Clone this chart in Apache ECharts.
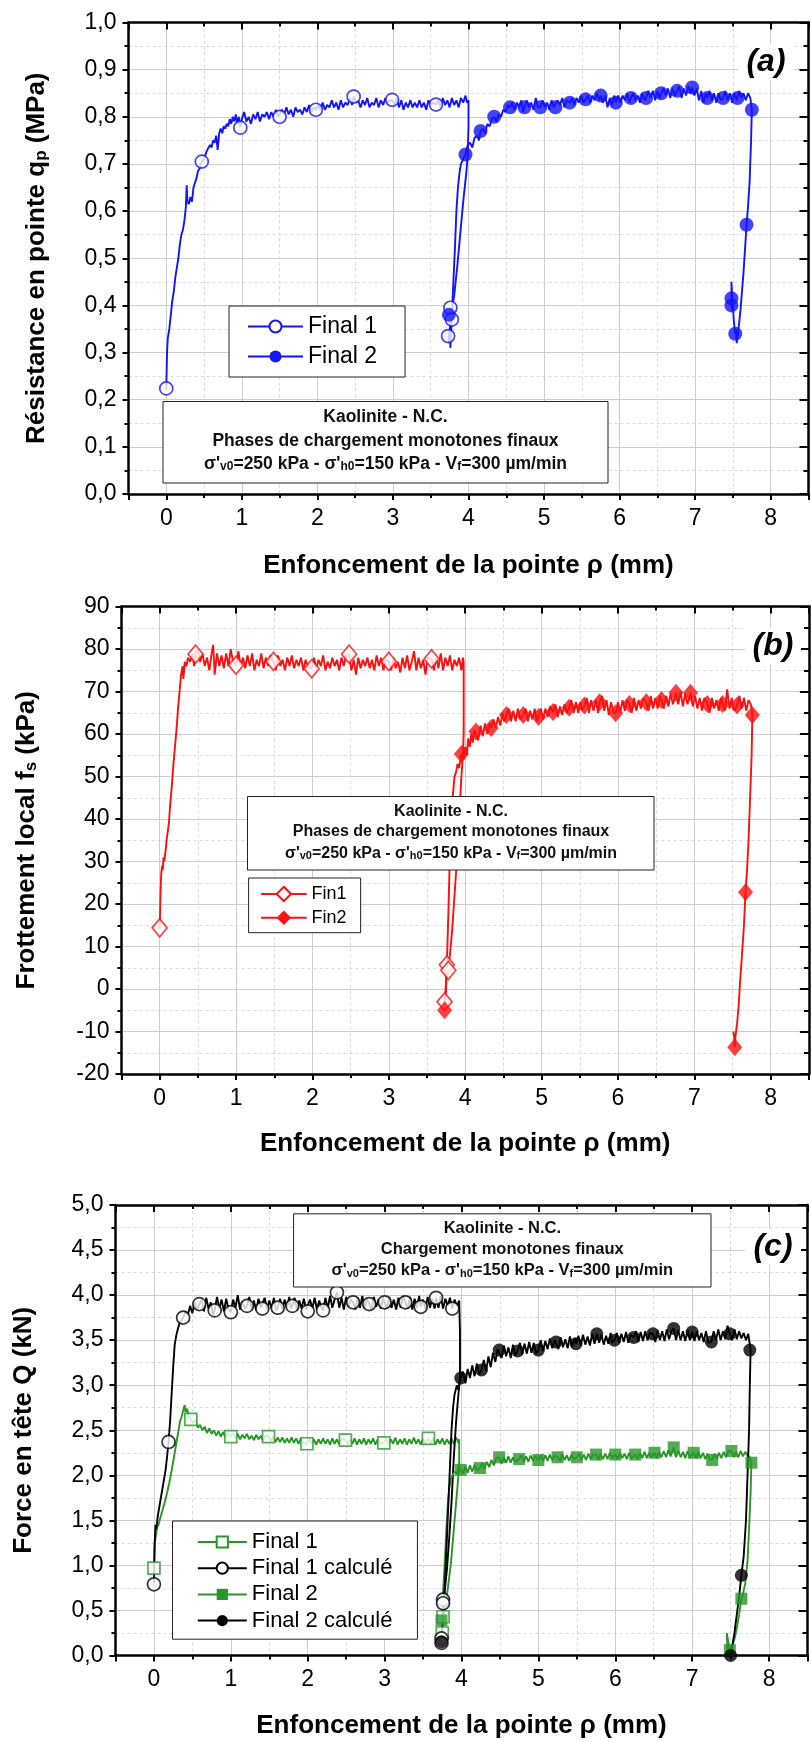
<!DOCTYPE html>
<html><head><meta charset="utf-8">
<script src="https://cdn.jsdelivr.net/npm/echarts@6/dist/echarts.min.js"></script>
<style>html,body{margin:0;padding:0;background:#fff}#c{width:811px;height:1742px}</style>
</head><body><div id="c"></div><script>
// ---------------- DATA ----------------
const xTitle = 'Enfoncement de la pointe ρ (mm)';
const aFinal1Line = [[0,0.22],[0.01,0.30],[0.02,0.33],[0.04,0.35],[0.06,0.38],[0.08,0.41],[0.10,0.43],[0.12,0.46],[0.14,0.48],[0.16,0.50],[0.18,0.53],[0.20,0.55],[0.22,0.56],[0.24,0.58],[0.26,0.61],[0.27,0.655],[0.28,0.62],[0.30,0.615],[0.32,0.63],[0.34,0.62],[0.36,0.65],[0.38,0.66],[0.40,0.67],[0.42,0.685],[0.44,0.69],[0.47,0.705],[0.50,0.71],[0.53,0.725],[0.56,0.735],[0.58,0.74],[0.60,0.735],[0.62,0.75],[0.64,0.745],[0.66,0.76],[0.68,0.73],[0.70,0.765],[0.72,0.775],[0.74,0.765],[0.76,0.78],[0.78,0.775],[0.80,0.785],[0.82,0.78],[0.84,0.795],[0.86,0.785],[0.88,0.80],[0.90,0.79],[0.92,0.805],[0.94,0.785],[0.96,0.80],[0.98,0.778],[1.00,0.795],[1.03,0.81],[1.06,0.79],[1.09,0.80],[1.12,0.785],[1.15,0.805],[1.18,0.795],[1.21,0.81],[1.24,0.79],[1.27,0.805],[1.30,0.80],[1.33,0.81],[1.36,0.795],[1.39,0.81],[1.42,0.80],[1.45,0.815],[1.48,0.80],[1.50,0.80],[1.53,0.815],[1.56,0.805],[1.59,0.82],[1.62,0.805],[1.65,0.815],[1.68,0.80],[1.71,0.82],[1.74,0.81],[1.77,0.815],[1.80,0.805],[1.83,0.82],[1.86,0.81],[1.89,0.825],[1.92,0.81],[1.95,0.82],[1.98,0.815],[2.01,0.825],[2.04,0.815],[2.07,0.83],[2.10,0.815],[2.13,0.825],[2.16,0.82],[2.19,0.835],[2.22,0.82],[2.25,0.83],[2.28,0.815],[2.31,0.835],[2.34,0.82],[2.37,0.83],[2.40,0.825],[2.43,0.84],[2.46,0.825],[2.48,0.843],[2.51,0.83],[2.54,0.835],[2.57,0.82],[2.60,0.835],[2.63,0.825],[2.66,0.84],[2.69,0.82],[2.72,0.83],[2.75,0.825],[2.78,0.84],[2.81,0.82],[2.84,0.835],[2.87,0.825],[2.90,0.84],[2.93,0.83],[2.96,0.835],[2.99,0.836],[3.02,0.825],[3.05,0.84],[3.08,0.82],[3.11,0.835],[3.14,0.815],[3.17,0.83],[3.20,0.82],[3.23,0.835],[3.26,0.82],[3.29,0.83],[3.32,0.82],[3.35,0.835],[3.38,0.82],[3.41,0.83],[3.44,0.815],[3.47,0.835],[3.50,0.825],[3.53,0.83],[3.57,0.826],[3.60,0.835],[3.63,0.82],[3.66,0.84],[3.69,0.825],[3.72,0.835],[3.75,0.82],[3.78,0.84],[3.81,0.825],[3.84,0.835],[3.87,0.82],[3.90,0.84],[3.93,0.83],[3.96,0.845],[3.98,0.83],[4.00,0.835],[4.00,0.78],[3.99,0.72],[3.97,0.68],[3.93,0.62],[3.89,0.55],[3.85,0.48],[3.81,0.42],[3.78,0.39],[3.77,0.37],[3.75,0.34],[3.74,0.32],[3.74,0.335],[3.76,0.36],[3.76,0.395]];
const aFinal1Marks = [[0,0.224],[0.47,0.705],[0.98,0.777],[1.50,0.80],[1.98,0.815],[2.48,0.843],[2.99,0.836],[3.57,0.826],[3.76,0.395],[3.78,0.37],[3.73,0.335]];
const aFinal2Line = [[3.74,0.38],[3.75,0.39],[3.76,0.36],[3.76,0.31],[3.77,0.34],[3.78,0.38],[3.80,0.45],[3.82,0.52],[3.84,0.60],[3.86,0.65],[3.88,0.68],[3.90,0.70],[3.93,0.71],[3.96,0.72],[3.99,0.74],[4.02,0.745],[4.05,0.735],[4.08,0.755],[4.11,0.76],[4.14,0.75],[4.16,0.77],[4.19,0.775],[4.22,0.765],[4.25,0.785],[4.28,0.78],[4.31,0.795],[4.34,0.80],[4.37,0.79],[4.40,0.805],[4.43,0.80],[4.46,0.815],[4.49,0.81],[4.52,0.825],[4.55,0.82],[4.58,0.83],[4.61,0.815],[4.64,0.83],[4.67,0.82],[4.70,0.835],[4.72,0.81],[4.74,0.82],[4.77,0.835],[4.80,0.82],[4.83,0.83],[4.86,0.815],[4.89,0.84],[4.92,0.82],[4.95,0.82],[4.98,0.835],[5.01,0.82],[5.04,0.83],[5.07,0.815],[5.10,0.835],[5.13,0.82],[5.15,0.82],[5.18,0.835],[5.21,0.825],[5.24,0.84],[5.27,0.82],[5.30,0.835],[5.34,0.83],[5.37,0.84],[5.40,0.825],[5.43,0.84],[5.46,0.83],[5.49,0.845],[5.52,0.83],[5.55,0.837],[5.58,0.845],[5.61,0.83],[5.64,0.845],[5.67,0.835],[5.70,0.85],[5.73,0.835],[5.75,0.845],[5.78,0.83],[5.81,0.845],[5.84,0.82],[5.87,0.84],[5.90,0.825],[5.93,0.845],[5.95,0.83],[5.98,0.845],[6.01,0.83],[6.04,0.845],[6.07,0.835],[6.10,0.85],[6.13,0.83],[6.15,0.84],[6.18,0.85],[6.21,0.835],[6.24,0.845],[6.27,0.83],[6.30,0.85],[6.33,0.835],[6.35,0.84],[6.38,0.855],[6.41,0.84],[6.44,0.855],[6.47,0.835],[6.50,0.855],[6.53,0.84],[6.55,0.85],[6.58,0.86],[6.61,0.845],[6.64,0.86],[6.67,0.84],[6.70,0.86],[6.73,0.845],[6.76,0.855],[6.79,0.865],[6.82,0.84],[6.85,0.86],[6.88,0.845],[6.91,0.865],[6.94,0.85],[6.96,0.862],[6.99,0.845],[7.02,0.86],[7.05,0.835],[7.08,0.855],[7.11,0.83],[7.14,0.85],[7.16,0.84],[7.19,0.855],[7.22,0.835],[7.25,0.85],[7.28,0.83],[7.31,0.85],[7.34,0.835],[7.37,0.84],[7.40,0.855],[7.43,0.835],[7.46,0.85],[7.49,0.83],[7.52,0.85],[7.55,0.835],[7.58,0.855],[7.61,0.84],[7.64,0.85],[7.67,0.835],[7.70,0.85],[7.73,0.84],[7.75,0.815],[7.74,0.75],[7.72,0.66],[7.70,0.61],[7.68,0.571],[7.66,0.52],[7.64,0.47],[7.62,0.43],[7.60,0.39],[7.58,0.36],[7.56,0.33],[7.55,0.32],[7.54,0.35],[7.53,0.34],[7.51,0.37],[7.50,0.40],[7.49,0.42],[7.48,0.45],[7.48,0.40],[7.49,0.39]];
const aFinal2Marks = [[3.74,0.38],[3.96,0.72],[4.16,0.77],[4.34,0.80],[4.55,0.82],[4.74,0.82],[4.95,0.82],[5.15,0.82],[5.34,0.83],[5.55,0.837],[5.75,0.845],[5.95,0.83],[6.15,0.84],[6.35,0.84],[6.55,0.85],[6.76,0.855],[6.96,0.862],[7.16,0.84],[7.37,0.84],[7.56,0.84],[7.75,0.815],[7.68,0.571],[7.53,0.34],[7.48,0.40],[7.48,0.415]];

const bFin1Line = [[0,14],[0.01,22],[0.02,27],[0.03,29],[0.04,28],[0.05,31],[0.06,30],[0.08,33],[0.09,35],[0.10,35],[0.12,39],[0.14,44],[0.16,48],[0.18,53],[0.20,57],[0.22,61],[0.24,66],[0.26,70],[0.28,74],[0.30,76],[0.31,73],[0.33,77],[0.35,76],[0.37,78],[0.40,77],[0.43,79],[0.45,76],[0.47,79],[0.50,80],[0.53,77],[0.56,79],[0.59,76],[0.62,78],[0.65,75],[0.68,79],[0.70,81],[0.72,74],[0.75,79],[0.78,76],[0.81,78.5],[0.84,75.5],[0.87,79],[0.90,76],[0.93,80],[0.96,77],[1.00,76.2],[1.03,79.5],[1.06,76],[1.09,78],[1.12,75.5],[1.15,78.5],[1.18,76],[1.21,79],[1.24,75],[1.27,77.5],[1.30,76],[1.33,79],[1.36,75.5],[1.39,78],[1.42,76],[1.45,78.5],[1.49,77.1],[1.52,75],[1.55,78.5],[1.58,76],[1.61,77.5],[1.64,75],[1.67,78],[1.70,76],[1.73,78.5],[1.76,75.5],[1.79,77.5],[1.82,76],[1.85,78],[1.88,75],[1.91,77.5],[1.94,76],[1.99,75.4],[2.02,78],[2.05,75.5],[2.08,77.5],[2.11,76],[2.14,78.5],[2.17,75],[2.20,77],[2.23,75.5],[2.26,78],[2.29,76],[2.32,77.5],[2.35,75],[2.38,78],[2.41,76],[2.44,78.5],[2.48,78.8],[2.51,75],[2.54,77.5],[2.57,74],[2.60,78],[2.63,75.5],[2.66,77.5],[2.69,76],[2.72,78],[2.75,75.5],[2.78,77.5],[2.81,75],[2.84,78.5],[2.87,76],[2.90,78],[2.93,75],[2.96,77.5],[3.00,77.1],[3.03,75],[3.06,78],[3.09,75.5],[3.12,77],[3.15,74.5],[3.18,78],[3.21,75.5],[3.24,78.5],[3.27,75],[3.30,77],[3.33,79.5],[3.36,75],[3.39,78],[3.42,75.5],[3.45,77.5],[3.48,74],[3.51,78],[3.56,77.7],[3.59,75],[3.62,78],[3.65,75.5],[3.68,79],[3.71,75],[3.74,78],[3.77,76],[3.80,78.5],[3.83,75],[3.86,77.5],[3.89,76],[3.92,78],[3.95,75],[3.97,78],[3.98,77],[3.98,60],[3.97,55],[3.95,50],[3.92,40],[3.89,30],[3.86,22],[3.83,14],[3.80,8],[3.78,5],[3.77,4.4],[3.76,5.7],[3.75,2],[3.74,-1],[3.73,-3]];
const bFin1Marks = [[0,14.4],[0.47,78.8],[1.0,76.2],[1.49,77.1],[1.99,75.4],[2.48,78.8],[3.0,77.1],[3.56,77.7],[3.76,5.7],[3.78,4.4],[3.73,-3.0]];
const bFin2Line = [[3.73,-5],[3.74,-3],[3.75,0],[3.76,6],[3.77,12],[3.78,18],[3.79,25],[3.80,32],[3.82,40],[3.84,46],[3.86,50],[3.88,51],[3.90,53],[3.92,52],[3.95,55.3],[3.98,54],[4.00,57],[4.02,55],[4.04,59],[4.06,57],[4.08,60],[4.10,58],[4.12,61],[4.14,60.6],[4.17,58.5],[4.20,62],[4.23,59.5],[4.26,62.5],[4.29,60],[4.32,62.5],[4.34,61.4],[4.37,63.5],[4.40,61.5],[4.43,64],[4.46,62],[4.49,65],[4.51,63],[4.54,64.5],[4.57,66],[4.60,63],[4.63,65.5],[4.66,63],[4.69,66],[4.72,63.5],[4.76,64.5],[4.79,66],[4.82,63],[4.85,65.5],[4.88,63.5],[4.91,66],[4.94,63],[4.96,64],[4.99,66],[5.02,63.5],[5.05,66],[5.08,64],[5.11,66.5],[5.15,65.2],[5.18,67],[5.21,64],[5.24,66.5],[5.27,64.5],[5.30,67],[5.33,65],[5.36,66.2],[5.39,68],[5.42,65],[5.45,67.5],[5.48,65],[5.51,67.5],[5.53,65.5],[5.56,66.7],[5.59,68.5],[5.62,65],[5.65,68],[5.68,65.5],[5.71,68],[5.74,65],[5.76,67.5],[5.79,69],[5.82,65.5],[5.85,68],[5.88,64.5],[5.91,67.5],[5.94,65],[5.97,64.9],[6.00,67.5],[6.03,65],[6.06,68],[6.09,65.5],[6.12,68],[6.15,67.1],[6.18,65],[6.21,68.5],[6.24,65.5],[6.27,68],[6.30,66],[6.33,68.5],[6.37,67.5],[6.40,65.5],[6.43,69],[6.46,66],[6.49,68.5],[6.52,66],[6.55,69],[6.57,68],[6.60,66],[6.63,69],[6.66,66.5],[6.69,69.5],[6.72,67],[6.76,69.7],[6.79,67],[6.82,70],[6.85,66.5],[6.88,69.5],[6.91,67],[6.95,69.7],[6.98,66.5],[7.01,69],[7.04,66],[7.07,68.5],[7.10,65.5],[7.13,68.5],[7.17,67.1],[7.20,65],[7.23,68.5],[7.26,66],[7.29,68],[7.32,65.5],[7.35,68.5],[7.37,67.1],[7.40,65.5],[7.43,70.5],[7.46,66],[7.49,68.5],[7.52,65.5],[7.56,66.7],[7.59,69],[7.62,66],[7.65,68.5],[7.68,65.5],[7.71,68],[7.74,67],[7.76,64.5],[7.75,55],[7.73,45],[7.71,35],[7.69,28],[7.67,22.8],[7.65,15],[7.62,7],[7.60,2],[7.58,-4],[7.56,-8],[7.54,-11],[7.53,-13.7],[7.52,-11],[7.51,-10]];
const bFin2Marks = [[3.73,-5.0],[3.95,55.3],[4.14,60.6],[4.34,61.4],[4.54,64.5],[4.76,64.5],[4.96,64.0],[5.15,65.2],[5.36,66.2],[5.56,66.7],[5.76,67.5],[5.97,64.9],[6.15,67.1],[6.37,67.5],[6.57,68.0],[6.76,69.7],[6.95,69.7],[7.17,67.1],[7.37,67.1],[7.56,66.7],[7.76,64.5],[7.67,22.8],[7.53,-13.7]];

const cFinal1Line = [[0,0.97],[0.005,1.15],[0.01,1.25],[0.02,1.3],[0.04,1.42],[0.06,1.45],[0.08,1.52],[0.10,1.58],[0.12,1.64],[0.14,1.7],[0.17,1.8],[0.20,1.92],[0.23,2.05],[0.26,2.2],[0.29,2.35],[0.32,2.5],[0.34,2.6],[0.36,2.65],[0.38,2.72],[0.40,2.78],[0.41,2.7],[0.43,2.74],[0.45,2.66],[0.48,2.62],[0.51,2.58],[0.54,2.62],[0.57,2.53],[0.60,2.56],[0.63,2.5],[0.66,2.54],[0.69,2.47],[0.72,2.52],[0.75,2.46],[0.78,2.5],[0.81,2.44],[0.84,2.49],[0.87,2.43],[0.90,2.48],[0.93,2.42],[0.96,2.47],[1.00,2.43],[1.03,2.47],[1.06,2.41],[1.09,2.46],[1.12,2.4],[1.15,2.45],[1.18,2.41],[1.21,2.46],[1.24,2.4],[1.27,2.44],[1.30,2.39],[1.33,2.45],[1.36,2.4],[1.39,2.44],[1.42,2.38],[1.45,2.44],[1.49,2.43],[1.52,2.38],[1.55,2.43],[1.58,2.37],[1.61,2.42],[1.64,2.37],[1.67,2.42],[1.70,2.36],[1.73,2.41],[1.76,2.36],[1.79,2.42],[1.82,2.36],[1.85,2.41],[1.88,2.35],[1.91,2.41],[1.94,2.36],[1.99,2.35],[2.02,2.41],[2.05,2.35],[2.08,2.4],[2.11,2.34],[2.14,2.4],[2.17,2.35],[2.20,2.41],[2.23,2.35],[2.26,2.4],[2.29,2.34],[2.32,2.41],[2.35,2.35],[2.38,2.4],[2.41,2.34],[2.44,2.41],[2.49,2.39],[2.52,2.34],[2.55,2.4],[2.58,2.35],[2.61,2.41],[2.64,2.34],[2.67,2.4],[2.70,2.35],[2.73,2.41],[2.76,2.34],[2.79,2.4],[2.82,2.35],[2.85,2.41],[2.88,2.34],[2.91,2.4],[2.94,2.35],[2.99,2.36],[3.02,2.41],[3.05,2.34],[3.08,2.4],[3.11,2.35],[3.14,2.42],[3.17,2.34],[3.20,2.4],[3.23,2.35],[3.26,2.41],[3.29,2.34],[3.32,2.4],[3.35,2.35],[3.38,2.42],[3.41,2.35],[3.44,2.4],[3.47,2.34],[3.50,2.41],[3.53,2.35],[3.57,2.41],[3.60,2.35],[3.63,2.41],[3.66,2.34],[3.69,2.4],[3.72,2.35],[3.75,2.41],[3.78,2.34],[3.81,2.4],[3.84,2.35],[3.87,2.41],[3.90,2.35],[3.93,2.42],[3.96,2.36],[3.97,2.4],[3.97,2.1],[3.95,1.9],[3.92,1.6],[3.89,1.3],[3.86,1.0],[3.83,0.8],[3.80,0.6],[3.77,0.45],[3.76,0.43],[3.75,0.3],[3.75,0.25]];
const cFinal1Marks = [[0,0.97],[0.48,2.62],[1.0,2.43],[1.49,2.43],[1.99,2.35],[2.49,2.39],[2.99,2.36],[3.57,2.41],[3.76,0.43],[3.75,0.25]];
const cFinal1CalcLine = [[0,0.80],[0.005,1.0],[0.01,1.25],[0.02,1.45],[0.03,1.4],[0.05,1.55],[0.07,1.65],[0.09,1.75],[0.11,1.85],[0.13,1.95],[0.15,2.05],[0.17,2.2],[0.19,2.37],[0.21,2.6],[0.23,2.9],[0.25,3.2],[0.27,3.45],[0.29,3.55],[0.31,3.62],[0.33,3.68],[0.35,3.7],[0.38,3.75],[0.41,3.82],[0.44,3.78],[0.47,3.88],[0.50,3.8],[0.53,3.92],[0.56,3.84],[0.59,3.90],[0.62,3.95],[0.65,3.82],[0.68,3.97],[0.71,3.85],[0.74,3.92],[0.77,3.78],[0.79,3.83],[0.82,3.98],[0.85,3.85],[0.88,3.95],[0.91,3.82],[0.94,3.96],[0.97,3.84],[1.00,3.81],[1.03,3.95],[1.06,3.86],[1.09,4.0],[1.12,3.84],[1.15,3.93],[1.18,3.85],[1.21,3.88],[1.24,3.98],[1.27,3.84],[1.30,3.94],[1.33,3.83],[1.36,3.96],[1.39,3.86],[1.41,3.85],[1.44,3.97],[1.47,3.84],[1.50,3.94],[1.53,3.85],[1.56,3.97],[1.59,3.83],[1.61,3.86],[1.64,3.96],[1.67,3.84],[1.70,3.95],[1.73,3.86],[1.76,3.98],[1.78,3.85],[1.80,3.88],[1.83,3.97],[1.86,3.83],[1.89,3.94],[1.92,3.85],[1.95,3.96],[1.98,3.84],[2.00,3.82],[2.03,3.95],[2.06,3.85],[2.09,3.97],[2.12,3.84],[2.15,3.94],[2.18,3.86],[2.20,3.83],[2.23,3.97],[2.26,3.85],[2.29,3.99],[2.32,3.86],[2.35,3.95],[2.38,4.03],[2.41,3.86],[2.44,3.97],[2.47,3.84],[2.50,3.98],[2.53,3.87],[2.56,3.95],[2.59,3.92],[2.62,3.84],[2.65,3.97],[2.68,3.86],[2.71,3.99],[2.74,3.85],[2.77,3.96],[2.80,3.90],[2.83,3.84],[2.86,3.98],[2.89,3.87],[2.92,3.95],[2.95,3.85],[2.98,3.97],[3.00,3.92],[3.03,3.85],[3.06,3.98],[3.09,3.86],[3.12,3.95],[3.15,3.84],[3.18,3.97],[3.21,3.86],[3.24,3.99],[3.27,3.92],[3.30,3.85],[3.33,3.98],[3.36,3.84],[3.39,3.96],[3.42,3.86],[3.45,3.99],[3.47,3.87],[3.50,3.95],[3.53,3.84],[3.56,3.98],[3.59,3.86],[3.62,3.96],[3.65,3.85],[3.67,3.97],[3.70,3.86],[3.73,3.99],[3.76,3.85],[3.79,3.96],[3.82,3.88],[3.85,3.97],[3.88,3.85],[3.91,3.95],[3.94,3.88],[3.97,3.94],[3.98,3.6],[3.98,3.1],[3.96,2.9],[3.93,2.6],[3.90,2.2],[3.87,1.7],[3.84,1.3],[3.81,0.95],[3.78,0.7],[3.76,0.62],[3.76,0.58],[3.75,0.4],[3.74,0.19],[3.74,0.14]];
const cFinal1CalcMarks = [[0,0.79],[0.19,2.37],[0.38,3.75],[0.59,3.90],[0.79,3.83],[1.0,3.81],[1.21,3.88],[1.41,3.85],[1.61,3.86],[1.80,3.88],[2.0,3.82],[2.2,3.83],[2.38,4.03],[2.59,3.92],[2.80,3.90],[3.0,3.92],[3.27,3.92],[3.47,3.87],[3.67,3.97],[3.88,3.85],[3.76,0.62],[3.76,0.58],[3.74,0.19],[3.74,0.14]];
const cFinal2Line = [[3.74,0.39],[3.75,0.5],[3.76,0.7],[3.78,1.0],[3.80,1.35],[3.82,1.65],[3.84,1.85],[3.86,1.95],[3.88,2.0],[3.91,2.04],[3.94,2.02],[3.96,2.08],[3.99,2.06],[4.02,2.02],[4.05,2.1],[4.08,2.03],[4.11,2.11],[4.14,2.04],[4.17,2.12],[4.20,2.05],[4.24,2.08],[4.27,2.14],[4.30,2.07],[4.33,2.15],[4.36,2.09],[4.39,2.17],[4.42,2.11],[4.45,2.19],[4.49,2.2],[4.52,2.13],[4.55,2.2],[4.58,2.14],[4.61,2.21],[4.64,2.14],[4.67,2.2],[4.70,2.15],[4.75,2.18],[4.78,2.22],[4.81,2.15],[4.84,2.21],[4.87,2.15],[4.90,2.22],[4.93,2.16],[4.96,2.21],[5.00,2.17],[5.03,2.22],[5.06,2.16],[5.09,2.22],[5.12,2.16],[5.15,2.23],[5.18,2.17],[5.21,2.22],[5.25,2.2],[5.28,2.16],[5.31,2.23],[5.34,2.17],[5.37,2.22],[5.40,2.16],[5.43,2.23],[5.46,2.18],[5.50,2.2],[5.53,2.24],[5.56,2.17],[5.59,2.23],[5.62,2.17],[5.65,2.24],[5.68,2.18],[5.71,2.23],[5.75,2.23],[5.78,2.17],[5.81,2.24],[5.84,2.18],[5.87,2.24],[5.90,2.18],[5.93,2.25],[5.96,2.19],[6.00,2.23],[6.03,2.18],[6.06,2.25],[6.09,2.19],[6.12,2.24],[6.15,2.18],[6.18,2.25],[6.21,2.19],[6.26,2.23],[6.29,2.18],[6.32,2.25],[6.35,2.19],[6.38,2.26],[6.41,2.19],[6.44,2.25],[6.47,2.2],[6.51,2.25],[6.54,2.19],[6.57,2.26],[6.60,2.2],[6.63,2.27],[6.66,2.2],[6.69,2.28],[6.72,2.21],[6.76,2.31],[6.79,2.2],[6.82,2.27],[6.85,2.2],[6.88,2.26],[6.91,2.19],[6.94,2.27],[6.97,2.2],[7.02,2.25],[7.05,2.19],[7.08,2.26],[7.11,2.19],[7.14,2.25],[7.17,2.18],[7.20,2.24],[7.23,2.18],[7.26,2.17],[7.29,2.24],[7.32,2.18],[7.35,2.25],[7.38,2.19],[7.41,2.26],[7.44,2.2],[7.47,2.27],[7.51,2.27],[7.54,2.2],[7.57,2.26],[7.60,2.2],[7.63,2.27],[7.66,2.21],[7.69,2.26],[7.72,2.22],[7.75,2.2],[7.77,2.14],[7.76,1.8],[7.74,1.4],[7.72,1.05],[7.69,0.8],[7.66,0.68],[7.64,0.63],[7.61,0.45],[7.58,0.3],[7.55,0.18],[7.52,0.1],[7.49,0.06],[7.47,0.08],[7.45,0.25],[7.46,0.04]];
const cFinal2Marks = [[3.74,0.39],[3.99,2.06],[4.24,2.08],[4.49,2.2],[4.75,2.18],[5.0,2.17],[5.25,2.2],[5.5,2.2],[5.75,2.23],[6.0,2.23],[6.26,2.23],[6.51,2.25],[6.76,2.31],[7.02,2.25],[7.26,2.17],[7.51,2.27],[7.77,2.14],[7.64,0.63],[7.49,0.06]];
const cFinal2CalcLine = [[3.74,0.15],[3.75,0.25],[3.76,0.4],[3.77,0.6],[3.79,0.9],[3.81,1.3],[3.83,1.7],[3.85,2.1],[3.87,2.5],[3.89,2.75],[3.91,2.9],[3.94,3.0],[3.96,2.95],[3.99,3.08],[4.02,3.15],[4.05,3.02],[4.08,3.18],[4.11,3.08],[4.14,3.22],[4.17,3.1],[4.20,3.24],[4.23,3.12],[4.26,3.17],[4.29,3.28],[4.32,3.16],[4.35,3.32],[4.38,3.2],[4.41,3.36],[4.44,3.26],[4.47,3.4],[4.49,3.39],[4.52,3.3],[4.55,3.44],[4.58,3.32],[4.61,3.42],[4.64,3.3],[4.67,3.45],[4.70,3.33],[4.73,3.38],[4.76,3.47],[4.79,3.34],[4.82,3.46],[4.85,3.35],[4.88,3.48],[4.91,3.36],[4.94,3.47],[4.97,3.35],[5.00,3.39],[5.03,3.5],[5.06,3.38],[5.09,3.49],[5.12,3.4],[5.15,3.52],[5.18,3.41],[5.21,3.5],[5.23,3.48],[5.26,3.4],[5.29,3.53],[5.32,3.42],[5.35,3.51],[5.38,3.41],[5.41,3.54],[5.44,3.43],[5.47,3.52],[5.49,3.46],[5.52,3.55],[5.55,3.44],[5.58,3.56],[5.61,3.45],[5.64,3.54],[5.67,3.44],[5.70,3.57],[5.73,3.46],[5.76,3.57],[5.79,3.47],[5.82,3.56],[5.85,3.45],[5.88,3.55],[5.91,3.46],[5.94,3.58],[5.96,3.47],[5.99,3.50],[6.02,3.58],[6.05,3.47],[6.08,3.57],[6.11,3.48],[6.14,3.59],[6.17,3.47],[6.20,3.56],[6.24,3.53],[6.27,3.6],[6.30,3.48],[6.33,3.59],[6.36,3.49],[6.39,3.6],[6.42,3.5],[6.45,3.58],[6.49,3.57],[6.52,3.48],[6.55,3.61],[6.58,3.5],[6.61,3.6],[6.64,3.49],[6.67,3.62],[6.70,3.51],[6.73,3.6],[6.76,3.63],[6.79,3.5],[6.82,3.61],[6.85,3.5],[6.88,3.6],[6.91,3.49],[6.94,3.61],[6.97,3.5],[7.00,3.59],[7.03,3.49],[7.06,3.6],[7.09,3.5],[7.12,3.58],[7.15,3.48],[7.18,3.6],[7.21,3.47],[7.25,3.48],[7.28,3.6],[7.31,3.5],[7.34,3.62],[7.37,3.5],[7.40,3.6],[7.43,3.51],[7.46,3.66],[7.49,3.57],[7.52,3.5],[7.55,3.62],[7.58,3.51],[7.61,3.6],[7.64,3.52],[7.67,3.58],[7.70,3.5],[7.73,3.57],[7.75,3.55],[7.76,3.39],[7.75,3.0],[7.74,2.5],[7.72,2.0],[7.70,1.5],[7.67,1.1],[7.64,0.89],[7.61,0.65],[7.58,0.45],[7.55,0.25],[7.52,0.1],[7.50,0.0]];
const cFinal2CalcMarks = [[3.74,0.15],[3.99,3.08],[4.26,3.17],[4.49,3.39],[4.73,3.38],[5.0,3.39],[5.23,3.48],[5.49,3.46],[5.76,3.57],[5.99,3.50],[6.24,3.53],[6.49,3.57],[6.76,3.63],[7.0,3.59],[7.25,3.48],[7.49,3.57],[7.75,3.39],[7.64,0.89],[7.5,0.0]];

// ---------------- STYLE ----------------
const FONT = "'Liberation Sans', Arial, Helvetica, sans-serif";
const BLUE = '#1414ff', RED = '#ff1010', GREEN = '#2a962a', BLACK = '#000000';
const LW = 1.9;

function xAxes(g, gap) {
  const common = {type:'value', gridIndex:g, min:-0.5, max:8.5, minInterval:1, maxInterval:1};
  return [Object.assign({}, common, {
    position:'bottom',
    axisLine:{onZero:false, lineStyle:{color:'#000', width:2.5}},
    axisTick:{show:true, inside:false, length:6, lineStyle:{color:'#000', width:2}},
    minorTick:{show:true, splitNumber:2, length:4, lineStyle:{color:'#000', width:2}},
    splitLine:{show:true, lineStyle:{color:'#cdcdcd', width:1}},
    minorSplitLine:{show:true, lineStyle:{color:'#dadada', width:1, type:[3,3]}},
    axisLabel:{show:true, fontSize:23, color:'#000', fontFamily:FONT, margin:13, showMinLabel:false, showMaxLabel:false,
      formatter: v => Number.isInteger(v) ? String(v) : ''},
    name:xTitle, nameLocation:'middle', nameGap:gap, nameMoveOverlap:false,
    nameTextStyle:{fontSize:26, fontWeight:'bold', fontFamily:FONT, color:'#000'}
  }), Object.assign({}, common, {
    position:'top',
    axisLine:{onZero:false, lineStyle:{color:'#000', width:2.5}},
    axisTick:{show:true, inside:true, length:7, lineStyle:{color:'#000', width:2}},
    minorTick:{show:true, splitNumber:2, length:4, lineStyle:{color:'#000', width:2}},
    splitLine:{show:false}, minorSplitLine:{show:false}, axisLabel:{show:false}
  })];
}
function yAxes(g, min, max, interval, fmt, name, gap, rich) {
  const common = {type:'value', gridIndex:g, min, max, interval};
  return [Object.assign({}, common, {
    position:'left',
    axisLine:{onZero:false, lineStyle:{color:'#000', width:2.5}},
    axisTick:{show:true, inside:false, length:6, lineStyle:{color:'#000', width:2}},
    minorTick:{show:true, splitNumber:2, length:4, lineStyle:{color:'#000', width:2}},
    splitLine:{show:true, lineStyle:{color:'#cdcdcd', width:1}},
    minorSplitLine:{show:true, lineStyle:{color:'#dadada', width:1, type:[3,3]}},
    axisLabel:{show:true, fontSize:23, color:'#000', fontFamily:FONT, margin:12, formatter:fmt},
    name, nameLocation:'middle', nameGap:gap, nameMoveOverlap:false,
    nameTextStyle:{fontSize:26, fontWeight:'bold', fontFamily:FONT, color:'#000', rich}
  }), Object.assign({}, common, {
    position:'right',
    axisLine:{onZero:false, lineStyle:{color:'#000', width:2.5}},
    axisTick:{show:true, inside:true, length:9, lineStyle:{color:'#000', width:2}},
    minorTick:{show:true, splitNumber:2, length:5, lineStyle:{color:'#000', width:2}},
    splitLine:{show:false}, minorSplitLine:{show:false}, axisLabel:{show:false}
  })];
}
const comma1 = v => v.toFixed(1).replace('.', ',');
const subRich = {s:{fontSize:17, fontWeight:'bold', fontFamily:FONT, color:'#000', verticalAlign:'bottom'}};

function lineS(name, data, color, ax, sym, size, filled) {
  return {type:'line', name, data, xAxisIndex:ax*2, yAxisIndex:ax*2, showSymbol:false, symbol:sym, symbolSize:size,
    lineStyle:{color, width:LW}, itemStyle: filled ? {color} : {color:'#fff', borderColor:color, borderWidth:1.7},
    emphasis:{disabled:true}, animation:false, z:2};
}
function markS(name, data, color, ax, sym, size, filled) {
  return {type:'scatter', name, data, xAxisIndex:ax*2, yAxisIndex:ax*2, symbol:sym, symbolSize:size,
    itemStyle: filled ? {color} : {color:'#fff', borderColor:color, borderWidth:1.7},
    emphasis:{disabled:true}, animation:false, z:3};
}

function boxGraphic(x, y, w, h, cx, lines, fs, sub) {
  const rich = {
    b:{fontSize:fs, fontWeight:'bold', fontFamily:FONT, fill:'#111'},
    s:{fontSize:sub, fontWeight:'bold', fontFamily:FONT, fill:'#111', verticalAlign:'bottom'}
  };
  const els = [{type:'rect', z:100, silent:true, shape:{x, y, width:w, height:h}, style:{fill:'#fff', stroke:'#222', lineWidth:1}}];
  lines.forEach(l => els.push({type:'text', z:101, silent:true, x:cx, y:l[0],
    style:{text:l[1], fontSize:fs, fontWeight:'bold', fontFamily:FONT, fill:'#111', align:'center', verticalAlign:'middle', rich}}));
  return els;
}
const sigmaLine = "{b|σ'}{s|v0}{b|=250 kPa - σ'}{s|h0}{b|=150 kPa - V}{s|f}{b|=300 µm/min}";
function panelLabel(txt, cx, cy) {
  return [
    {type:'rect', z:100, silent:true, shape:{x:cx-28, y:cy-18, width:56, height:36}, style:{fill:'#fff'}},
    {type:'text', z:101, silent:true, x:cx, y:cy, style:{text:txt, fontSize:32, fontWeight:'bold', fontStyle:'italic', fontFamily:FONT, fill:'#000', align:'center', verticalAlign:'middle'}}
  ];
}

const option = {
  animation:false,
  backgroundColor:'#fff',
  grid:[
    {left:128.5, top:22.5, width:680, height:471.5, containLabel:false, outerBoundsMode:'none'},
    {left:121.5, top:606.6, width:687.4, height:467.4, containLabel:false, outerBoundsMode:'none'},
    {left:115.5, top:1205, width:692, height:450.5, containLabel:false, outerBoundsMode:'none'}
  ],
  xAxis:[].concat(xAxes(0, 59), xAxes(1, 57), xAxes(2, 57)),
  yAxis:[].concat(
    yAxes(0, 0, 1, 0.1, comma1, 'Résistance en pointe q{s|p} (MPa)', 79, subRich),
    yAxes(1, -20, 90, 10, v => String(v), 'Frottement local f{s|s} (kPa)', 82, subRich),
    yAxes(2, 0, 5, 0.5, comma1, 'Force en tête Q (kN)', 79, subRich)
  ),
  legend:[
    {data:['Final 1','Final 2'], orient:'vertical', left:229, top:306, padding:[9,28,9,18], itemGap:7,
     itemWidth:55, itemHeight:15, backgroundColor:'#fff', borderColor:'#222', borderWidth:1, selectedMode:false,
     textStyle:{fontSize:23, color:'#000', fontFamily:FONT}},
    {data:['Fin1','Fin2'], orient:'vertical', left:248.6, top:878, padding:[7,14,6,11.5], itemGap:5.7,
     itemWidth:45.5, itemHeight:18, backgroundColor:'#fff', borderColor:'#222', borderWidth:1, selectedMode:false,
     textStyle:{fontSize:18, color:'#000', fontFamily:FONT}},
    {data:['Final 1 ','Final 1 calculé','Final 2 ','Final 2 calculé'], orient:'vertical', left:172.5, top:1521, padding:[10,25,7.6,24.3], itemGap:4.2,
     itemWidth:49, itemHeight:14, backgroundColor:'#fff', borderColor:'#222', borderWidth:1, selectedMode:false,
     textStyle:{fontSize:22, color:'#000', fontFamily:FONT}}
  ],
  graphic:[].concat(
    boxGraphic(163, 401.5, 445, 81.5, 385.5, [[417,'{b|Kaolinite - N.C.}'],[440.7,'{b|Phases de chargement monotones finaux}'],[464,sigmaLine]], 17.5, 12),
    boxGraphic(247.5, 796.5, 406.5, 73.5, 451, [[811.7,'{b|Kaolinite - N.C.}'],[831.7,'{b|Phases de chargement monotones finaux}'],[853.3,sigmaLine]], 16, 11),
    boxGraphic(293.6, 1213.8, 417.4, 73.2, 502.3, [[1228.7,'{b|Kaolinite - N.C.}'],[1249,'{b|Chargement monotones finaux}'],[1270.6,sigmaLine]], 16.5, 11),
    panelLabel('(a)', 766, 62),
    panelLabel('(b)', 773, 646),
    panelLabel('(c)', 773, 1247)
  ),
  series:[
    lineS('Final 1', aFinal1Line, BLUE, 0, 'circle', 12, false),
    lineS('Final 2', aFinal2Line, BLUE, 0, 'circle', 13, true),
    markS('Final 1', aFinal1Marks, BLUE, 0, 'circle', 13, false),
    markS('Final 2', aFinal2Marks, BLUE, 0, 'circle', 14, true),

    lineS('Fin1', bFin1Line, RED, 1, 'diamond', [14,17], false),
    lineS('Fin2', bFin2Line, RED, 1, 'diamond', [14,17], true),
    markS('Fin1', bFin1Marks, RED, 1, 'diamond', [15,18], false),
    markS('Fin2', bFin2Marks, RED, 1, 'diamond', [15,18], true),

    lineS('Final 1 ', cFinal1Line, GREEN, 2, 'rect', 11, false),
    lineS('Final 1 calculé', cFinal1CalcLine, BLACK, 2, 'circle', 12, false),
    lineS('Final 2 ', cFinal2Line, GREEN, 2, 'rect', 11, true),
    lineS('Final 2 calculé', cFinal2CalcLine, BLACK, 2, 'circle', 12, true),
    markS('Final 1 ', cFinal1Marks, GREEN, 2, 'rect', 12, false),
    markS('Final 1 calculé', cFinal1CalcMarks, BLACK, 2, 'circle', 13, false),
    markS('Final 2 ', cFinal2Marks, GREEN, 2, 'rect', 12, true),
    markS('Final 2 calculé', cFinal2CalcMarks, BLACK, 2, 'circle', 13, true)
  ]
};
const chart = echarts.init(document.getElementById('c'), null, {renderer:'canvas', width:811, height:1742});
chart.setOption(option);
</script></body></html>
